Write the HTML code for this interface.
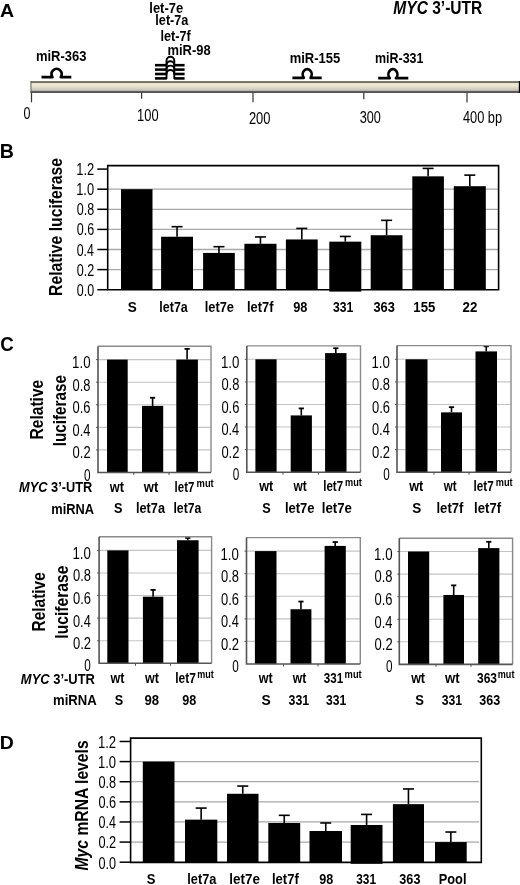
<!DOCTYPE html>
<html><head><meta charset="utf-8"><style>
html,body{margin:0;padding:0;background:#fff;}
body{width:520px;height:885px;overflow:hidden;}
svg{display:block;font-family:"Liberation Sans", sans-serif;}
</style></head><body>
<svg width="520" height="885" viewBox="0 0 520 885">
<rect width="520" height="885" fill="#fff"/>
<defs><filter id="gs" x="0" y="0" width="520" height="885" filterUnits="userSpaceOnUse"><feColorMatrix type="saturate" values="0"/></filter></defs>
<path d="M41.5,77.2 H52.44 A5.0,5.4 0 1 1 60.76,77.2 H71.3" stroke="#000" stroke-width="2.7" fill="none" stroke-linejoin="round"/>
<path d="M292.4,77.8 H303.80 A4.5,5.2 0 1 1 310.60,77.8 H321.7" stroke="#000" stroke-width="2.7" fill="none" stroke-linejoin="round"/>
<path d="M378.2,78.2 H389.83 A4.5,5.2 0 1 1 395.97,78.2 H408.3" stroke="#000" stroke-width="2.7" fill="none" stroke-linejoin="round"/>
<path d="M155,65.2 H166.8" stroke="#000" stroke-width="2.6" fill="none" />
<path d="M174.0,65.2 H184.6" stroke="#000" stroke-width="2.6" fill="none" />
<path d="M166.5,65.8 V60.70 A3.90,3.90 0 0 1 174.3,60.70 V65.8" stroke="#000" stroke-width="1.9" fill="none" />
<path d="M155,69.6 H166.8" stroke="#000" stroke-width="2.6" fill="none" />
<path d="M174.0,69.6 H184.6" stroke="#000" stroke-width="2.6" fill="none" />
<path d="M166.5,70.19999999999999 V65.10 A3.90,3.90 0 0 1 174.3,65.10 V70.19999999999999" stroke="#000" stroke-width="1.9" fill="none" />
<path d="M155,74.0 H166.8" stroke="#000" stroke-width="2.6" fill="none" />
<path d="M174.0,74.0 H184.6" stroke="#000" stroke-width="2.6" fill="none" />
<path d="M166.5,74.6 V69.50 A3.90,3.90 0 0 1 174.3,69.50 V74.6" stroke="#000" stroke-width="1.9" fill="none" />
<path d="M155,78.4 H166.8" stroke="#000" stroke-width="2.6" fill="none" />
<path d="M174.0,78.4 H184.6" stroke="#000" stroke-width="2.6" fill="none" />
<path d="M166.5,79.0 V73.90 A3.90,3.90 0 0 1 174.3,73.90 V79.0" stroke="#000" stroke-width="1.9" fill="none" />
<defs><linearGradient id="bg" x1="0" y1="0" x2="0" y2="1">
<stop offset="0" stop-color="#5a564c"/><stop offset="0.14" stop-color="#7a7566"/>
<stop offset="0.2" stop-color="#efe9d4"/><stop offset="0.42" stop-color="#ebe5cf"/>
<stop offset="0.62" stop-color="#d8d2c2"/><stop offset="0.78" stop-color="#c4c1b9"/><stop offset="0.86" stop-color="#9a978f"/>
<stop offset="0.9" stop-color="#444"/><stop offset="1" stop-color="#222"/></linearGradient></defs>
<rect x="30.50" y="81.20" width="489.50" height="11.60" fill="url(#bg)" />
<rect x="30.50" y="81.20" width="1.00" height="11.60" fill="#6a665c" />
<rect x="518.80" y="81.20" width="1.20" height="11.60" fill="#000" />
<line x1="31.50" y1="92.60" x2="31.50" y2="102.30" stroke="#333" stroke-width="1.2"/>
<line x1="141.60" y1="92.60" x2="141.60" y2="98.80" stroke="#333" stroke-width="1.2"/>
<line x1="253.00" y1="92.60" x2="253.00" y2="102.20" stroke="#333" stroke-width="1.2"/>
<line x1="363.80" y1="92.60" x2="363.80" y2="99.20" stroke="#333" stroke-width="1.2"/>
<line x1="467.00" y1="92.60" x2="467.00" y2="102.40" stroke="#333" stroke-width="1.2"/>
<line x1="108.00" y1="269.60" x2="498.50" y2="269.60" stroke="#a8a8a8" stroke-width="1.3"/>
<line x1="108.00" y1="249.50" x2="498.50" y2="249.50" stroke="#a8a8a8" stroke-width="1.3"/>
<line x1="108.00" y1="229.40" x2="498.50" y2="229.40" stroke="#a8a8a8" stroke-width="1.3"/>
<line x1="108.00" y1="209.30" x2="498.50" y2="209.30" stroke="#a8a8a8" stroke-width="1.3"/>
<line x1="108.00" y1="189.20" x2="498.50" y2="189.20" stroke="#a8a8a8" stroke-width="1.3"/>
<rect x="121.00" y="189.20" width="31.50" height="100.50" fill="#000" />
<rect x="161.10" y="236.74" width="31.90" height="52.96" fill="#000" />
<line x1="177.05" y1="236.74" x2="177.05" y2="226.69" stroke="#000" stroke-width="1.6"/>
<line x1="171.55" y1="226.69" x2="182.55" y2="226.69" stroke="#000" stroke-width="1.6"/>
<rect x="203.10" y="252.92" width="31.70" height="36.78" fill="#000" />
<line x1="218.95" y1="252.92" x2="218.95" y2="246.69" stroke="#000" stroke-width="1.6"/>
<line x1="213.45" y1="246.69" x2="224.45" y2="246.69" stroke="#000" stroke-width="1.6"/>
<rect x="244.40" y="243.77" width="32.10" height="45.93" fill="#000" />
<line x1="260.45" y1="243.77" x2="260.45" y2="236.94" stroke="#000" stroke-width="1.6"/>
<line x1="254.95" y1="236.94" x2="265.95" y2="236.94" stroke="#000" stroke-width="1.6"/>
<rect x="285.90" y="239.45" width="31.80" height="50.25" fill="#000" />
<line x1="301.80" y1="239.45" x2="301.80" y2="228.39" stroke="#000" stroke-width="1.6"/>
<line x1="296.30" y1="228.39" x2="307.30" y2="228.39" stroke="#000" stroke-width="1.6"/>
<rect x="329.30" y="241.66" width="32.00" height="49.94" fill="#000" />
<line x1="345.30" y1="241.66" x2="345.30" y2="236.44" stroke="#000" stroke-width="1.6"/>
<line x1="339.80" y1="236.44" x2="350.80" y2="236.44" stroke="#000" stroke-width="1.6"/>
<rect x="370.70" y="235.23" width="31.80" height="54.47" fill="#000" />
<line x1="386.60" y1="235.23" x2="386.60" y2="220.35" stroke="#000" stroke-width="1.6"/>
<line x1="381.10" y1="220.35" x2="392.10" y2="220.35" stroke="#000" stroke-width="1.6"/>
<rect x="412.30" y="176.34" width="31.60" height="113.36" fill="#000" />
<line x1="428.10" y1="176.34" x2="428.10" y2="168.40" stroke="#000" stroke-width="1.6"/>
<line x1="422.60" y1="168.40" x2="433.60" y2="168.40" stroke="#000" stroke-width="1.6"/>
<rect x="453.80" y="186.19" width="32.00" height="103.51" fill="#000" />
<line x1="469.80" y1="186.19" x2="469.80" y2="175.13" stroke="#000" stroke-width="1.6"/>
<line x1="464.30" y1="175.13" x2="475.30" y2="175.13" stroke="#000" stroke-width="1.6"/>
<path d="M107.7,165.6 H498.6 V289.8 H107.7 Z" stroke="#000" stroke-width="1.6" fill="none" />
<line x1="97.30" y1="289.70" x2="107.70" y2="289.70" stroke="#000" stroke-width="1.5"/>
<line x1="97.30" y1="269.60" x2="107.70" y2="269.60" stroke="#000" stroke-width="1.5"/>
<line x1="97.30" y1="249.50" x2="107.70" y2="249.50" stroke="#000" stroke-width="1.5"/>
<line x1="97.30" y1="229.40" x2="107.70" y2="229.40" stroke="#000" stroke-width="1.5"/>
<line x1="97.30" y1="209.30" x2="107.70" y2="209.30" stroke="#000" stroke-width="1.5"/>
<line x1="97.30" y1="189.20" x2="107.70" y2="189.20" stroke="#000" stroke-width="1.5"/>
<line x1="97.30" y1="169.10" x2="107.70" y2="169.10" stroke="#000" stroke-width="1.5"/>
<line x1="98.00" y1="449.92" x2="211.00" y2="449.92" stroke="#c4c4c4" stroke-width="1.1"/>
<line x1="98.00" y1="427.34" x2="211.00" y2="427.34" stroke="#c4c4c4" stroke-width="1.1"/>
<line x1="98.00" y1="404.76" x2="211.00" y2="404.76" stroke="#c4c4c4" stroke-width="1.1"/>
<line x1="98.00" y1="382.18" x2="211.00" y2="382.18" stroke="#c4c4c4" stroke-width="1.1"/>
<line x1="98.00" y1="359.60" x2="211.00" y2="359.60" stroke="#c4c4c4" stroke-width="1.1"/>
<rect x="107.00" y="359.60" width="20.70" height="112.90" fill="#000" />
<rect x="142.00" y="405.89" width="21.20" height="66.61" fill="#000" />
<line x1="152.60" y1="405.89" x2="152.60" y2="397.76" stroke="#000" stroke-width="1.6"/>
<line x1="150.00" y1="397.76" x2="155.20" y2="397.76" stroke="#000" stroke-width="1.8"/>
<rect x="176.30" y="359.60" width="21.60" height="112.90" fill="#000" />
<line x1="187.10" y1="359.60" x2="187.10" y2="348.87" stroke="#000" stroke-width="1.6"/>
<line x1="184.50" y1="348.87" x2="189.70" y2="348.87" stroke="#000" stroke-width="1.8"/>
<path d="M98,346.3 H211 V472.5" stroke="#8a8a8a" stroke-width="1.4" fill="none" />
<path d="M98,346.3 V472.5 H211" stroke="#555" stroke-width="1.6" fill="none" />
<line x1="96.00" y1="449.92" x2="98.00" y2="449.92" stroke="#555" stroke-width="1"/>
<line x1="96.00" y1="427.34" x2="98.00" y2="427.34" stroke="#555" stroke-width="1"/>
<line x1="96.00" y1="404.76" x2="98.00" y2="404.76" stroke="#555" stroke-width="1"/>
<line x1="96.00" y1="382.18" x2="98.00" y2="382.18" stroke="#555" stroke-width="1"/>
<line x1="96.00" y1="359.60" x2="98.00" y2="359.60" stroke="#555" stroke-width="1"/>
<line x1="133.80" y1="472.50" x2="133.80" y2="475.00" stroke="#555" stroke-width="1"/>
<line x1="169.00" y1="472.50" x2="169.00" y2="475.00" stroke="#555" stroke-width="1"/>
<line x1="246.80" y1="449.62" x2="360.50" y2="449.62" stroke="#c4c4c4" stroke-width="1.1"/>
<line x1="246.80" y1="427.04" x2="360.50" y2="427.04" stroke="#c4c4c4" stroke-width="1.1"/>
<line x1="246.80" y1="404.46" x2="360.50" y2="404.46" stroke="#c4c4c4" stroke-width="1.1"/>
<line x1="246.80" y1="381.88" x2="360.50" y2="381.88" stroke="#c4c4c4" stroke-width="1.1"/>
<line x1="246.80" y1="359.30" x2="360.50" y2="359.30" stroke="#c4c4c4" stroke-width="1.1"/>
<rect x="255.40" y="359.30" width="21.20" height="112.90" fill="#000" />
<rect x="290.70" y="415.41" width="21.20" height="56.79" fill="#000" />
<line x1="301.30" y1="415.41" x2="301.30" y2="408.41" stroke="#000" stroke-width="1.6"/>
<line x1="298.70" y1="408.41" x2="303.90" y2="408.41" stroke="#000" stroke-width="1.8"/>
<rect x="325.10" y="353.09" width="21.40" height="119.11" fill="#000" />
<line x1="335.80" y1="353.09" x2="335.80" y2="348.24" stroke="#000" stroke-width="1.6"/>
<line x1="333.20" y1="348.24" x2="338.40" y2="348.24" stroke="#000" stroke-width="1.8"/>
<path d="M246.8,345.9 H360.5 V472.2" stroke="#8a8a8a" stroke-width="1.4" fill="none" />
<path d="M246.8,345.9 V472.2 H360.5" stroke="#555" stroke-width="1.6" fill="none" />
<line x1="244.80" y1="449.62" x2="246.80" y2="449.62" stroke="#555" stroke-width="1"/>
<line x1="244.80" y1="427.04" x2="246.80" y2="427.04" stroke="#555" stroke-width="1"/>
<line x1="244.80" y1="404.46" x2="246.80" y2="404.46" stroke="#555" stroke-width="1"/>
<line x1="244.80" y1="381.88" x2="246.80" y2="381.88" stroke="#555" stroke-width="1"/>
<line x1="244.80" y1="359.30" x2="246.80" y2="359.30" stroke="#555" stroke-width="1"/>
<line x1="283.00" y1="472.20" x2="283.00" y2="474.70" stroke="#555" stroke-width="1"/>
<line x1="318.40" y1="472.20" x2="318.40" y2="474.70" stroke="#555" stroke-width="1"/>
<line x1="397.00" y1="449.62" x2="511.00" y2="449.62" stroke="#c4c4c4" stroke-width="1.1"/>
<line x1="397.00" y1="427.04" x2="511.00" y2="427.04" stroke="#c4c4c4" stroke-width="1.1"/>
<line x1="397.00" y1="404.46" x2="511.00" y2="404.46" stroke="#c4c4c4" stroke-width="1.1"/>
<line x1="397.00" y1="381.88" x2="511.00" y2="381.88" stroke="#c4c4c4" stroke-width="1.1"/>
<line x1="397.00" y1="359.30" x2="511.00" y2="359.30" stroke="#c4c4c4" stroke-width="1.1"/>
<rect x="405.50" y="359.30" width="22.00" height="112.90" fill="#000" />
<rect x="441.00" y="412.36" width="21.00" height="59.84" fill="#000" />
<line x1="451.50" y1="412.36" x2="451.50" y2="407.17" stroke="#000" stroke-width="1.6"/>
<line x1="448.90" y1="407.17" x2="454.10" y2="407.17" stroke="#000" stroke-width="1.8"/>
<rect x="475.50" y="351.40" width="21.50" height="120.80" fill="#000" />
<line x1="486.25" y1="351.40" x2="486.25" y2="346.32" stroke="#000" stroke-width="1.6"/>
<line x1="483.65" y1="346.32" x2="488.85" y2="346.32" stroke="#000" stroke-width="1.8"/>
<path d="M397,345.6 H511 V472.2" stroke="#8a8a8a" stroke-width="1.4" fill="none" />
<path d="M397,345.6 V472.2 H511" stroke="#555" stroke-width="1.6" fill="none" />
<line x1="395.00" y1="449.62" x2="397.00" y2="449.62" stroke="#555" stroke-width="1"/>
<line x1="395.00" y1="427.04" x2="397.00" y2="427.04" stroke="#555" stroke-width="1"/>
<line x1="395.00" y1="404.46" x2="397.00" y2="404.46" stroke="#555" stroke-width="1"/>
<line x1="395.00" y1="381.88" x2="397.00" y2="381.88" stroke="#555" stroke-width="1"/>
<line x1="395.00" y1="359.30" x2="397.00" y2="359.30" stroke="#555" stroke-width="1"/>
<line x1="434.00" y1="472.20" x2="434.00" y2="474.70" stroke="#555" stroke-width="1"/>
<line x1="469.00" y1="472.20" x2="469.00" y2="474.70" stroke="#555" stroke-width="1"/>
<line x1="99.10" y1="640.72" x2="211.60" y2="640.72" stroke="#c4c4c4" stroke-width="1.1"/>
<line x1="99.10" y1="618.14" x2="211.60" y2="618.14" stroke="#c4c4c4" stroke-width="1.1"/>
<line x1="99.10" y1="595.56" x2="211.60" y2="595.56" stroke="#c4c4c4" stroke-width="1.1"/>
<line x1="99.10" y1="572.98" x2="211.60" y2="572.98" stroke="#c4c4c4" stroke-width="1.1"/>
<line x1="99.10" y1="550.40" x2="211.60" y2="550.40" stroke="#c4c4c4" stroke-width="1.1"/>
<rect x="107.30" y="550.40" width="21.20" height="112.90" fill="#000" />
<rect x="142.90" y="596.69" width="20.40" height="66.61" fill="#000" />
<line x1="153.10" y1="596.69" x2="153.10" y2="589.91" stroke="#000" stroke-width="1.6"/>
<line x1="150.50" y1="589.91" x2="155.70" y2="589.91" stroke="#000" stroke-width="1.8"/>
<rect x="177.00" y="540.24" width="21.60" height="123.06" fill="#000" />
<line x1="187.80" y1="540.24" x2="187.80" y2="537.98" stroke="#000" stroke-width="1.6"/>
<line x1="185.20" y1="537.98" x2="190.40" y2="537.98" stroke="#000" stroke-width="1.8"/>
<path d="M99.1,536.8 H211.6 V663.3" stroke="#8a8a8a" stroke-width="1.4" fill="none" />
<path d="M99.1,536.8 V663.3 H211.6" stroke="#555" stroke-width="1.6" fill="none" />
<line x1="97.10" y1="640.72" x2="99.10" y2="640.72" stroke="#555" stroke-width="1"/>
<line x1="97.10" y1="618.14" x2="99.10" y2="618.14" stroke="#555" stroke-width="1"/>
<line x1="97.10" y1="595.56" x2="99.10" y2="595.56" stroke="#555" stroke-width="1"/>
<line x1="97.10" y1="572.98" x2="99.10" y2="572.98" stroke="#555" stroke-width="1"/>
<line x1="97.10" y1="550.40" x2="99.10" y2="550.40" stroke="#555" stroke-width="1"/>
<line x1="135.50" y1="663.30" x2="135.50" y2="665.80" stroke="#555" stroke-width="1"/>
<line x1="170.50" y1="663.30" x2="170.50" y2="665.80" stroke="#555" stroke-width="1"/>
<line x1="246.50" y1="641.42" x2="360.30" y2="641.42" stroke="#c4c4c4" stroke-width="1.1"/>
<line x1="246.50" y1="618.84" x2="360.30" y2="618.84" stroke="#c4c4c4" stroke-width="1.1"/>
<line x1="246.50" y1="596.26" x2="360.30" y2="596.26" stroke="#c4c4c4" stroke-width="1.1"/>
<line x1="246.50" y1="573.68" x2="360.30" y2="573.68" stroke="#c4c4c4" stroke-width="1.1"/>
<line x1="246.50" y1="551.10" x2="360.30" y2="551.10" stroke="#c4c4c4" stroke-width="1.1"/>
<rect x="254.90" y="551.10" width="21.60" height="112.90" fill="#000" />
<rect x="290.50" y="609.24" width="20.90" height="54.76" fill="#000" />
<line x1="300.95" y1="609.24" x2="300.95" y2="601.57" stroke="#000" stroke-width="1.6"/>
<line x1="298.35" y1="601.57" x2="303.55" y2="601.57" stroke="#000" stroke-width="1.8"/>
<rect x="324.60" y="545.91" width="21.20" height="118.09" fill="#000" />
<line x1="335.20" y1="545.91" x2="335.20" y2="542.07" stroke="#000" stroke-width="1.6"/>
<line x1="332.60" y1="542.07" x2="337.80" y2="542.07" stroke="#000" stroke-width="1.8"/>
<path d="M246.5,537.6 H360.3 V664" stroke="#8a8a8a" stroke-width="1.4" fill="none" />
<path d="M246.5,537.6 V664 H360.3" stroke="#555" stroke-width="1.6" fill="none" />
<line x1="244.50" y1="641.42" x2="246.50" y2="641.42" stroke="#555" stroke-width="1"/>
<line x1="244.50" y1="618.84" x2="246.50" y2="618.84" stroke="#555" stroke-width="1"/>
<line x1="244.50" y1="596.26" x2="246.50" y2="596.26" stroke="#555" stroke-width="1"/>
<line x1="244.50" y1="573.68" x2="246.50" y2="573.68" stroke="#555" stroke-width="1"/>
<line x1="244.50" y1="551.10" x2="246.50" y2="551.10" stroke="#555" stroke-width="1"/>
<line x1="283.50" y1="664.00" x2="283.50" y2="666.50" stroke="#555" stroke-width="1"/>
<line x1="318.00" y1="664.00" x2="318.00" y2="666.50" stroke="#555" stroke-width="1"/>
<line x1="399.30" y1="641.82" x2="512.60" y2="641.82" stroke="#c4c4c4" stroke-width="1.1"/>
<line x1="399.30" y1="619.24" x2="512.60" y2="619.24" stroke="#c4c4c4" stroke-width="1.1"/>
<line x1="399.30" y1="596.66" x2="512.60" y2="596.66" stroke="#c4c4c4" stroke-width="1.1"/>
<line x1="399.30" y1="574.08" x2="512.60" y2="574.08" stroke="#c4c4c4" stroke-width="1.1"/>
<line x1="399.30" y1="551.50" x2="512.60" y2="551.50" stroke="#c4c4c4" stroke-width="1.1"/>
<rect x="408.00" y="551.50" width="21.20" height="112.90" fill="#000" />
<rect x="443.40" y="594.97" width="20.60" height="69.43" fill="#000" />
<line x1="453.70" y1="594.97" x2="453.70" y2="585.37" stroke="#000" stroke-width="1.6"/>
<line x1="451.10" y1="585.37" x2="456.30" y2="585.37" stroke="#000" stroke-width="1.8"/>
<rect x="478.20" y="548.11" width="21.20" height="116.29" fill="#000" />
<line x1="488.80" y1="548.11" x2="488.80" y2="541.79" stroke="#000" stroke-width="1.6"/>
<line x1="486.20" y1="541.79" x2="491.40" y2="541.79" stroke="#000" stroke-width="1.8"/>
<path d="M399.3,538.2 H512.6 V664.4" stroke="#8a8a8a" stroke-width="1.4" fill="none" />
<path d="M399.3,538.2 V664.4 H512.6" stroke="#555" stroke-width="1.6" fill="none" />
<line x1="397.30" y1="641.82" x2="399.30" y2="641.82" stroke="#555" stroke-width="1"/>
<line x1="397.30" y1="619.24" x2="399.30" y2="619.24" stroke="#555" stroke-width="1"/>
<line x1="397.30" y1="596.66" x2="399.30" y2="596.66" stroke="#555" stroke-width="1"/>
<line x1="397.30" y1="574.08" x2="399.30" y2="574.08" stroke="#555" stroke-width="1"/>
<line x1="397.30" y1="551.50" x2="399.30" y2="551.50" stroke="#555" stroke-width="1"/>
<line x1="436.00" y1="664.40" x2="436.00" y2="666.90" stroke="#555" stroke-width="1"/>
<line x1="471.00" y1="664.40" x2="471.00" y2="666.90" stroke="#555" stroke-width="1"/>
<line x1="131.00" y1="842.08" x2="479.00" y2="842.08" stroke="#a8a8a8" stroke-width="1.3"/>
<line x1="131.00" y1="821.96" x2="479.00" y2="821.96" stroke="#a8a8a8" stroke-width="1.3"/>
<line x1="131.00" y1="801.84" x2="479.00" y2="801.84" stroke="#a8a8a8" stroke-width="1.3"/>
<line x1="131.00" y1="781.72" x2="479.00" y2="781.72" stroke="#a8a8a8" stroke-width="1.3"/>
<line x1="131.00" y1="761.60" x2="479.00" y2="761.60" stroke="#a8a8a8" stroke-width="1.3"/>
<rect x="142.80" y="761.60" width="31.70" height="100.60" fill="#000" />
<rect x="185.00" y="819.65" width="32.30" height="42.55" fill="#000" />
<line x1="201.15" y1="819.65" x2="201.15" y2="808.08" stroke="#000" stroke-width="1.6"/>
<line x1="195.65" y1="808.08" x2="206.65" y2="808.08" stroke="#000" stroke-width="1.6"/>
<rect x="227.00" y="793.79" width="31.50" height="68.41" fill="#000" />
<line x1="242.75" y1="793.79" x2="242.75" y2="786.05" stroke="#000" stroke-width="1.6"/>
<line x1="237.25" y1="786.05" x2="248.25" y2="786.05" stroke="#000" stroke-width="1.6"/>
<rect x="268.30" y="822.97" width="31.90" height="39.23" fill="#000" />
<line x1="284.25" y1="822.97" x2="284.25" y2="815.32" stroke="#000" stroke-width="1.6"/>
<line x1="278.75" y1="815.32" x2="289.75" y2="815.32" stroke="#000" stroke-width="1.6"/>
<rect x="309.50" y="831.01" width="32.50" height="31.19" fill="#000" />
<line x1="325.75" y1="831.01" x2="325.75" y2="822.97" stroke="#000" stroke-width="1.6"/>
<line x1="320.25" y1="822.97" x2="331.25" y2="822.97" stroke="#000" stroke-width="1.6"/>
<rect x="350.70" y="824.98" width="31.80" height="38.82" fill="#000" />
<line x1="366.60" y1="824.98" x2="366.60" y2="814.42" stroke="#000" stroke-width="1.6"/>
<line x1="361.10" y1="814.42" x2="372.10" y2="814.42" stroke="#000" stroke-width="1.6"/>
<rect x="392.90" y="804.15" width="31.10" height="58.05" fill="#000" />
<line x1="408.45" y1="804.15" x2="408.45" y2="788.96" stroke="#000" stroke-width="1.6"/>
<line x1="402.95" y1="788.96" x2="413.95" y2="788.96" stroke="#000" stroke-width="1.6"/>
<rect x="435.00" y="842.08" width="31.70" height="20.12" fill="#000" />
<line x1="450.85" y1="842.08" x2="450.85" y2="832.02" stroke="#000" stroke-width="1.6"/>
<line x1="445.35" y1="832.02" x2="456.35" y2="832.02" stroke="#000" stroke-width="1.6"/>
<path d="M130.6,738.1 H481.3 V862.4 H130.6 Z" stroke="#000" stroke-width="1.6" fill="none" />
<line x1="119.60" y1="862.20" x2="130.60" y2="862.20" stroke="#000" stroke-width="1.5"/>
<line x1="119.60" y1="842.08" x2="130.60" y2="842.08" stroke="#000" stroke-width="1.5"/>
<line x1="119.60" y1="821.96" x2="130.60" y2="821.96" stroke="#000" stroke-width="1.5"/>
<line x1="119.60" y1="801.84" x2="130.60" y2="801.84" stroke="#000" stroke-width="1.5"/>
<line x1="119.60" y1="781.72" x2="130.60" y2="781.72" stroke="#000" stroke-width="1.5"/>
<line x1="119.60" y1="761.60" x2="130.60" y2="761.60" stroke="#000" stroke-width="1.5"/>
<line x1="119.60" y1="741.48" x2="130.60" y2="741.48" stroke="#000" stroke-width="1.5"/>
<g filter="url(#gs)">
<text x="0.11" y="16.8" font-size="19" font-weight="bold" textLength="14.10" lengthAdjust="spacingAndGlyphs" >A</text>
<text x="393.33" y="13.8" font-size="19" textLength="88.99" lengthAdjust="spacingAndGlyphs" ><tspan font-weight="bold" font-style="italic">MYC</tspan><tspan font-weight="bold"> 3’-UTR</tspan></text>
<text x="149.30" y="12.6" font-size="15.5" font-weight="bold" textLength="33.85" lengthAdjust="spacingAndGlyphs" >let-7e</text>
<text x="155.32" y="25.4" font-size="15.5" font-weight="bold" textLength="33.10" lengthAdjust="spacingAndGlyphs" >let-7a</text>
<text x="160.41" y="40.5" font-size="15.5" font-weight="bold" textLength="30.36" lengthAdjust="spacingAndGlyphs" >let-7f</text>
<text x="167.45" y="54.6" font-size="15" font-weight="bold" textLength="43.15" lengthAdjust="spacingAndGlyphs" >miR-98</text>
<text x="35.94" y="60.6" font-size="15" font-weight="bold" textLength="50.53" lengthAdjust="spacingAndGlyphs" >miR-363</text>
<text x="289.64" y="62.9" font-size="15" font-weight="bold" textLength="50.62" lengthAdjust="spacingAndGlyphs" >miR-155</text>
<text x="374.98" y="62.9" font-size="15" font-weight="bold" textLength="48.47" lengthAdjust="spacingAndGlyphs" >miR-331</text>
<text x="23.51" y="118.5" font-size="16.5" textLength="6.98" lengthAdjust="spacingAndGlyphs" >0</text>
<text x="137.12" y="120.6" font-size="16.5" textLength="21.48" lengthAdjust="spacingAndGlyphs" >100</text>
<text x="248.95" y="124.1" font-size="16.5" textLength="21.55" lengthAdjust="spacingAndGlyphs" >200</text>
<text x="359.72" y="122.5" font-size="16.5" textLength="21.18" lengthAdjust="spacingAndGlyphs" >300</text>
<text x="462.91" y="122.5" font-size="16.5" textLength="39.23" lengthAdjust="spacingAndGlyphs" >400 bp</text>
<text x="-0.16" y="158.4" font-size="20" font-weight="bold" textLength="14.15" lengthAdjust="spacingAndGlyphs" >B</text>
<text x="76.71" y="295.7" font-size="16.2" textLength="17.38" lengthAdjust="spacingAndGlyphs" >0.0</text>
<text x="76.71" y="275.6" font-size="16.2" textLength="17.53" lengthAdjust="spacingAndGlyphs" >0.2</text>
<text x="76.72" y="255.5" font-size="16.2" textLength="17.25" lengthAdjust="spacingAndGlyphs" >0.4</text>
<text x="76.71" y="235.4" font-size="16.2" textLength="17.44" lengthAdjust="spacingAndGlyphs" >0.6</text>
<text x="76.71" y="215.3" font-size="16.2" textLength="17.43" lengthAdjust="spacingAndGlyphs" >0.8</text>
<text x="76.22" y="195.2" font-size="16.2" textLength="17.88" lengthAdjust="spacingAndGlyphs" >1.0</text>
<text x="76.21" y="175.1" font-size="16.2" textLength="18.04" lengthAdjust="spacingAndGlyphs" >1.2</text>
<text transform="translate(62.0,294.9) rotate(-90)" x="-1.05" y="0" font-size="18.5" textLength="137.99" lengthAdjust="spacingAndGlyphs"><tspan font-weight="bold">Relative luciferase</tspan></text>
<text x="127.81" y="311.8" font-size="15.5" font-weight="bold" textLength="9.02" lengthAdjust="spacingAndGlyphs" >S</text>
<text x="159.33" y="311.8" font-size="15.5" font-weight="bold" textLength="28.49" lengthAdjust="spacingAndGlyphs" >let7a</text>
<text x="204.70" y="311.8" font-size="15.5" font-weight="bold" textLength="29.34" lengthAdjust="spacingAndGlyphs" >let7e</text>
<text x="247.00" y="311.8" font-size="15.5" font-weight="bold" textLength="26.47" lengthAdjust="spacingAndGlyphs" >let7f</text>
<text x="293.26" y="311.8" font-size="15.5" font-weight="bold" textLength="14.24" lengthAdjust="spacingAndGlyphs" >98</text>
<text x="332.92" y="311.8" font-size="15.5" font-weight="bold" textLength="20.32" lengthAdjust="spacingAndGlyphs" >331</text>
<text x="373.40" y="311.8" font-size="15.5" font-weight="bold" textLength="21.46" lengthAdjust="spacingAndGlyphs" >363</text>
<text x="413.37" y="311.8" font-size="15.5" font-weight="bold" textLength="21.89" lengthAdjust="spacingAndGlyphs" >155</text>
<text x="462.54" y="311.8" font-size="15.5" font-weight="bold" textLength="14.79" lengthAdjust="spacingAndGlyphs" >22</text>
<text x="0.13" y="351.0" font-size="19.5" font-weight="bold" textLength="13.48" lengthAdjust="spacingAndGlyphs" >C</text>
<text x="72.59" y="458.32" font-size="16" textLength="18.06" lengthAdjust="spacingAndGlyphs" >0.2</text>
<text x="72.60" y="435.74" font-size="16" textLength="17.77" lengthAdjust="spacingAndGlyphs" >0.4</text>
<text x="72.59" y="413.16" font-size="16" textLength="17.97" lengthAdjust="spacingAndGlyphs" >0.6</text>
<text x="72.60" y="390.58" font-size="16" textLength="17.97" lengthAdjust="spacingAndGlyphs" >0.8</text>
<text x="72.09" y="368.0" font-size="16" textLength="18.43" lengthAdjust="spacingAndGlyphs" >1.0</text>
<text x="83.94" y="480.5" font-size="16" textLength="6.52" lengthAdjust="spacingAndGlyphs" >0</text>
<text x="221.39" y="458.02" font-size="16" textLength="18.06" lengthAdjust="spacingAndGlyphs" >0.2</text>
<text x="221.40" y="435.44" font-size="16" textLength="17.77" lengthAdjust="spacingAndGlyphs" >0.4</text>
<text x="221.39" y="412.86" font-size="16" textLength="17.97" lengthAdjust="spacingAndGlyphs" >0.6</text>
<text x="221.40" y="390.28" font-size="16" textLength="17.97" lengthAdjust="spacingAndGlyphs" >0.8</text>
<text x="220.89" y="367.7" font-size="16" textLength="18.43" lengthAdjust="spacingAndGlyphs" >1.0</text>
<text x="232.74" y="480.2" font-size="16" textLength="6.52" lengthAdjust="spacingAndGlyphs" >0</text>
<text x="371.99" y="458.02" font-size="16" textLength="18.06" lengthAdjust="spacingAndGlyphs" >0.2</text>
<text x="372.00" y="435.44" font-size="16" textLength="17.77" lengthAdjust="spacingAndGlyphs" >0.4</text>
<text x="371.99" y="412.86" font-size="16" textLength="17.97" lengthAdjust="spacingAndGlyphs" >0.6</text>
<text x="372.00" y="390.28" font-size="16" textLength="17.97" lengthAdjust="spacingAndGlyphs" >0.8</text>
<text x="371.49" y="367.7" font-size="16" textLength="18.43" lengthAdjust="spacingAndGlyphs" >1.0</text>
<text x="383.34" y="480.2" font-size="16" textLength="6.52" lengthAdjust="spacingAndGlyphs" >0</text>
<text x="72.99" y="649.12" font-size="16" textLength="18.06" lengthAdjust="spacingAndGlyphs" >0.2</text>
<text x="73.00" y="626.54" font-size="16" textLength="17.77" lengthAdjust="spacingAndGlyphs" >0.4</text>
<text x="72.99" y="603.96" font-size="16" textLength="17.97" lengthAdjust="spacingAndGlyphs" >0.6</text>
<text x="73.00" y="581.38" font-size="16" textLength="17.97" lengthAdjust="spacingAndGlyphs" >0.8</text>
<text x="72.49" y="558.8" font-size="16" textLength="18.43" lengthAdjust="spacingAndGlyphs" >1.0</text>
<text x="84.34" y="671.3" font-size="16" textLength="6.52" lengthAdjust="spacingAndGlyphs" >0</text>
<text x="220.99" y="649.82" font-size="16" textLength="18.06" lengthAdjust="spacingAndGlyphs" >0.2</text>
<text x="221.00" y="627.24" font-size="16" textLength="17.77" lengthAdjust="spacingAndGlyphs" >0.4</text>
<text x="220.99" y="604.66" font-size="16" textLength="17.97" lengthAdjust="spacingAndGlyphs" >0.6</text>
<text x="221.00" y="582.08" font-size="16" textLength="17.97" lengthAdjust="spacingAndGlyphs" >0.8</text>
<text x="220.49" y="559.5" font-size="16" textLength="18.43" lengthAdjust="spacingAndGlyphs" >1.0</text>
<text x="232.34" y="672.0" font-size="16" textLength="6.52" lengthAdjust="spacingAndGlyphs" >0</text>
<text x="374.59" y="650.22" font-size="16" textLength="18.06" lengthAdjust="spacingAndGlyphs" >0.2</text>
<text x="374.60" y="627.64" font-size="16" textLength="17.77" lengthAdjust="spacingAndGlyphs" >0.4</text>
<text x="374.59" y="605.06" font-size="16" textLength="17.97" lengthAdjust="spacingAndGlyphs" >0.6</text>
<text x="374.60" y="582.48" font-size="16" textLength="17.97" lengthAdjust="spacingAndGlyphs" >0.8</text>
<text x="374.09" y="559.9" font-size="16" textLength="18.43" lengthAdjust="spacingAndGlyphs" >1.0</text>
<text x="385.94" y="672.4" font-size="16" textLength="6.52" lengthAdjust="spacingAndGlyphs" >0</text>
<text transform="translate(42.9,438.4) rotate(-90)" x="-1.04" y="0" font-size="18.5" textLength="59.67" lengthAdjust="spacingAndGlyphs"><tspan font-weight="bold">Relative</tspan></text>
<text transform="translate(66.2,445.2) rotate(-90)" x="-1.06" y="0" font-size="18.5" textLength="71.19" lengthAdjust="spacingAndGlyphs"><tspan font-weight="bold">luciferase</tspan></text>
<text transform="translate(45.0,630.5) rotate(-90)" x="-1.04" y="0" font-size="18.5" textLength="59.36" lengthAdjust="spacingAndGlyphs"><tspan font-weight="bold">Relative</tspan></text>
<text transform="translate(68.3,637.6) rotate(-90)" x="-1.09" y="0" font-size="18.5" textLength="73.13" lengthAdjust="spacingAndGlyphs"><tspan font-weight="bold">luciferase</tspan></text>
<text x="19.08" y="492.2" font-size="15" textLength="73.19" lengthAdjust="spacingAndGlyphs" ><tspan font-weight="bold" font-style="italic">MYC</tspan><tspan font-weight="bold"> 3’-UTR</tspan></text>
<text x="51.36" y="513.8" font-size="15" font-weight="bold" textLength="42.68" lengthAdjust="spacingAndGlyphs" >miRNA</text>
<text x="20.87" y="684.0" font-size="15" textLength="73.99" lengthAdjust="spacingAndGlyphs" ><tspan font-weight="bold" font-style="italic">MYC</tspan><tspan font-weight="bold"> 3’-UTR</tspan></text>
<text x="53.04" y="705.4" font-size="15" font-weight="bold" textLength="43.61" lengthAdjust="spacingAndGlyphs" >miRNA</text>
<text x="109.74" y="491.9" font-size="15.5" font-weight="bold" textLength="14.22" lengthAdjust="spacingAndGlyphs" >wt</text>
<text x="143.84" y="491.9" font-size="15.5" font-weight="bold" textLength="14.52" lengthAdjust="spacingAndGlyphs" >wt</text>
<text x="174.60" y="491.9" font-size="15.5" font-weight="bold" textLength="19.81" lengthAdjust="spacingAndGlyphs" >let7</text>
<text x="196.58" y="487.0" font-size="10.5" font-weight="bold" textLength="17.13" lengthAdjust="spacingAndGlyphs" >mut</text>
<text x="113.93" y="513.3" font-size="15.5" font-weight="bold" textLength="8.46" lengthAdjust="spacingAndGlyphs" >S</text>
<text x="136.01" y="513.3" font-size="15.5" font-weight="bold" textLength="29.01" lengthAdjust="spacingAndGlyphs" >let7a</text>
<text x="173.44" y="513.3" font-size="15.5" font-weight="bold" textLength="27.98" lengthAdjust="spacingAndGlyphs" >let7a</text>
<text x="259.24" y="491.3" font-size="15.5" font-weight="bold" textLength="14.02" lengthAdjust="spacingAndGlyphs" >wt</text>
<text x="293.43" y="491.3" font-size="15.5" font-weight="bold" textLength="13.21" lengthAdjust="spacingAndGlyphs" >wt</text>
<text x="323.19" y="491.3" font-size="15.5" font-weight="bold" textLength="19.91" lengthAdjust="spacingAndGlyphs" >let7</text>
<text x="345.10" y="486.4" font-size="10.5" font-weight="bold" textLength="16.82" lengthAdjust="spacingAndGlyphs" >mut</text>
<text x="262.33" y="512.8" font-size="15.5" font-weight="bold" textLength="8.46" lengthAdjust="spacingAndGlyphs" >S</text>
<text x="284.89" y="512.8" font-size="15.5" font-weight="bold" textLength="29.76" lengthAdjust="spacingAndGlyphs" >let7e</text>
<text x="321.78" y="512.8" font-size="15.5" font-weight="bold" textLength="30.18" lengthAdjust="spacingAndGlyphs" >let7e</text>
<text x="409.24" y="491.3" font-size="15.5" font-weight="bold" textLength="14.02" lengthAdjust="spacingAndGlyphs" >wt</text>
<text x="443.83" y="491.3" font-size="15.5" font-weight="bold" textLength="12.81" lengthAdjust="spacingAndGlyphs" >wt</text>
<text x="473.58" y="491.3" font-size="15.5" font-weight="bold" textLength="20.13" lengthAdjust="spacingAndGlyphs" >let7</text>
<text x="495.80" y="486.4" font-size="10.5" font-weight="bold" textLength="16.82" lengthAdjust="spacingAndGlyphs" >mut</text>
<text x="412.31" y="512.8" font-size="15.5" font-weight="bold" textLength="9.02" lengthAdjust="spacingAndGlyphs" >S</text>
<text x="436.48" y="512.8" font-size="15.5" font-weight="bold" textLength="26.99" lengthAdjust="spacingAndGlyphs" >let7f</text>
<text x="474.08" y="512.8" font-size="15.5" font-weight="bold" textLength="26.99" lengthAdjust="spacingAndGlyphs" >let7f</text>
<text x="110.44" y="683.3" font-size="15.5" font-weight="bold" textLength="13.92" lengthAdjust="spacingAndGlyphs" >wt</text>
<text x="145.04" y="683.3" font-size="15.5" font-weight="bold" textLength="13.92" lengthAdjust="spacingAndGlyphs" >wt</text>
<text x="175.16" y="683.3" font-size="15.5" font-weight="bold" textLength="20.66" lengthAdjust="spacingAndGlyphs" >let7</text>
<text x="197.21" y="678.4" font-size="10.5" font-weight="bold" textLength="16.50" lengthAdjust="spacingAndGlyphs" >mut</text>
<text x="114.63" y="704.9" font-size="15.5" font-weight="bold" textLength="8.46" lengthAdjust="spacingAndGlyphs" >S</text>
<text x="144.54" y="704.9" font-size="15.5" font-weight="bold" textLength="14.66" lengthAdjust="spacingAndGlyphs" >98</text>
<text x="182.16" y="704.9" font-size="15.5" font-weight="bold" textLength="14.03" lengthAdjust="spacingAndGlyphs" >98</text>
<text x="258.84" y="683.3" font-size="15.5" font-weight="bold" textLength="13.92" lengthAdjust="spacingAndGlyphs" >wt</text>
<text x="292.74" y="683.3" font-size="15.5" font-weight="bold" textLength="13.51" lengthAdjust="spacingAndGlyphs" >wt</text>
<text x="323.73" y="683.3" font-size="15.5" font-weight="bold" textLength="19.39" lengthAdjust="spacingAndGlyphs" >331</text>
<text x="344.58" y="678.4" font-size="10.5" font-weight="bold" textLength="17.13" lengthAdjust="spacingAndGlyphs" >mut</text>
<text x="261.60" y="704.9" font-size="15.5" font-weight="bold" textLength="9.24" lengthAdjust="spacingAndGlyphs" >S</text>
<text x="288.52" y="704.9" font-size="15.5" font-weight="bold" textLength="20.63" lengthAdjust="spacingAndGlyphs" >331</text>
<text x="325.92" y="704.9" font-size="15.5" font-weight="bold" textLength="20.22" lengthAdjust="spacingAndGlyphs" >331</text>
<text x="411.14" y="683.3" font-size="15.5" font-weight="bold" textLength="13.92" lengthAdjust="spacingAndGlyphs" >wt</text>
<text x="445.04" y="683.3" font-size="15.5" font-weight="bold" textLength="14.62" lengthAdjust="spacingAndGlyphs" >wt</text>
<text x="477.02" y="683.3" font-size="15.5" font-weight="bold" textLength="20.01" lengthAdjust="spacingAndGlyphs" >363</text>
<text x="497.80" y="678.4" font-size="10.5" font-weight="bold" textLength="16.61" lengthAdjust="spacingAndGlyphs" >mut</text>
<text x="415.32" y="704.9" font-size="15.5" font-weight="bold" textLength="8.68" lengthAdjust="spacingAndGlyphs" >S</text>
<text x="441.72" y="704.9" font-size="15.5" font-weight="bold" textLength="20.42" lengthAdjust="spacingAndGlyphs" >331</text>
<text x="479.31" y="704.9" font-size="15.5" font-weight="bold" textLength="20.84" lengthAdjust="spacingAndGlyphs" >363</text>
<text x="-0.15" y="749.2" font-size="19" font-weight="bold" textLength="14.07" lengthAdjust="spacingAndGlyphs" >D</text>
<text x="98.41" y="868.5" font-size="16.2" textLength="17.59" lengthAdjust="spacingAndGlyphs" >0.0</text>
<text x="98.40" y="848.38" font-size="16.2" textLength="17.74" lengthAdjust="spacingAndGlyphs" >0.2</text>
<text x="98.41" y="828.26" font-size="16.2" textLength="17.46" lengthAdjust="spacingAndGlyphs" >0.4</text>
<text x="98.40" y="808.14" font-size="16.2" textLength="17.65" lengthAdjust="spacingAndGlyphs" >0.6</text>
<text x="98.40" y="788.02" font-size="16.2" textLength="17.65" lengthAdjust="spacingAndGlyphs" >0.8</text>
<text x="97.91" y="767.9" font-size="16.2" textLength="18.10" lengthAdjust="spacingAndGlyphs" >1.0</text>
<text x="97.90" y="747.78" font-size="16.2" textLength="18.26" lengthAdjust="spacingAndGlyphs" >1.2</text>
<text transform="translate(88.0,870.2) rotate(-90)" x="-0.27" y="0" font-size="18.5" textLength="130.11" lengthAdjust="spacingAndGlyphs"><tspan font-weight="bold" font-style="italic">Myc</tspan><tspan font-weight="bold"> mRNA levels</tspan></text>
<text x="146.82" y="883.6" font-size="15.5" font-weight="bold" textLength="8.68" lengthAdjust="spacingAndGlyphs" >S</text>
<text x="187.21" y="883.6" font-size="15.5" font-weight="bold" textLength="29.21" lengthAdjust="spacingAndGlyphs" >let7a</text>
<text x="229.36" y="883.6" font-size="15.5" font-weight="bold" textLength="30.70" lengthAdjust="spacingAndGlyphs" >let7e</text>
<text x="271.89" y="883.6" font-size="15.5" font-weight="bold" textLength="26.89" lengthAdjust="spacingAndGlyphs" >let7f</text>
<text x="319.16" y="883.6" font-size="15.5" font-weight="bold" textLength="14.02" lengthAdjust="spacingAndGlyphs" >98</text>
<text x="356.23" y="883.6" font-size="15.5" font-weight="bold" textLength="19.80" lengthAdjust="spacingAndGlyphs" >331</text>
<text x="399.31" y="883.6" font-size="15.5" font-weight="bold" textLength="21.15" lengthAdjust="spacingAndGlyphs" >363</text>
<text x="438.74" y="883.6" font-size="15.5" font-weight="bold" textLength="27.76" lengthAdjust="spacingAndGlyphs" >Pool</text>
</g>
</svg></body></html>
